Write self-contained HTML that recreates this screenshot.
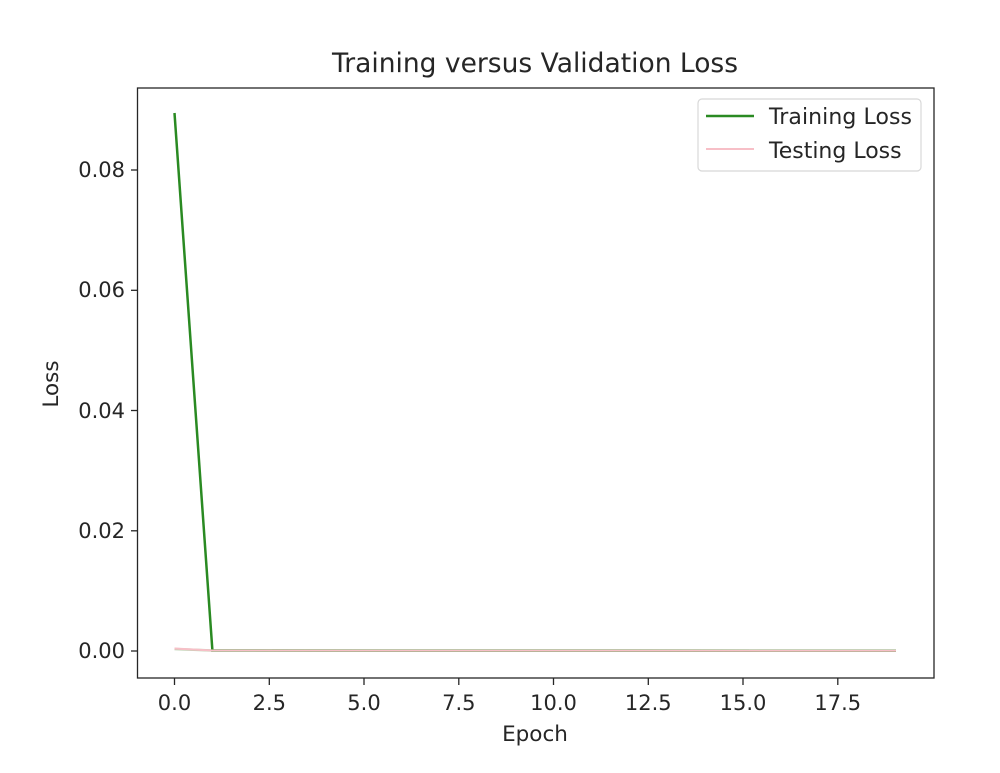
<!DOCTYPE html>
<html><head><style>body{margin:0;background:#fff}svg{display:block}text{font-family:"DejaVu Sans","Liberation Sans",sans-serif;fill:#262626}</style></head><body>
<svg width="1000" height="773" viewBox="0 0 1000 773">
<rect width="1000" height="773" fill="#fff"/>
<text x="535" y="72" font-size="26.5" text-anchor="middle">Training versus Validation Loss</text>
<g stroke="#262626" stroke-width="1.3">
<line x1="174.5" y1="678" x2="174.5" y2="685"/><line x1="269.3" y1="678" x2="269.3" y2="685"/><line x1="364" y1="678" x2="364" y2="685"/><line x1="458.8" y1="678" x2="458.8" y2="685"/><line x1="553.5" y1="678" x2="553.5" y2="685"/><line x1="648.3" y1="678" x2="648.3" y2="685"/><line x1="743" y1="678" x2="743" y2="685"/><line x1="837.8" y1="678" x2="837.8" y2="685"/>
<line x1="131" y1="651" x2="138" y2="651"/><line x1="131" y1="530.8" x2="138" y2="530.8"/><line x1="131" y1="410.5" x2="138" y2="410.5"/><line x1="131" y1="290.3" x2="138" y2="290.3"/><line x1="131" y1="170" x2="138" y2="170"/>
</g>
<g font-size="21" text-anchor="middle">
<text x="174.5" y="710">0.0</text><text x="269.3" y="710">2.5</text><text x="364" y="710">5.0</text><text x="458.8" y="710">7.5</text><text x="553.5" y="710">10.0</text><text x="648.3" y="710">12.5</text><text x="743" y="710">15.0</text><text x="837.8" y="710">17.5</text>
</g>
<g font-size="21" text-anchor="end">
<text x="125" y="658">0.00</text><text x="125" y="538">0.02</text><text x="125" y="418">0.04</text><text x="125" y="297">0.06</text><text x="125" y="177">0.08</text>
</g>
<text x="535" y="741" font-size="21.5" text-anchor="middle">Epoch</text>
<text transform="translate(58,384) rotate(-90)" font-size="21.5" text-anchor="middle">Loss</text>
<polyline points="174.5,649 212.4,650.5 896,650.8" fill="none" stroke="#bcd0b0" stroke-width="2.5"/>
<polyline points="174.5,113 212.4,650.5 896,650.8" fill="none" stroke="#2a8a22" stroke-width="2.5"/>
<polyline points="174.5,648.5 212.4,650.5 896,650.8" fill="none" stroke="#f7bfc7" stroke-width="2"/>
<rect x="137.5" y="88" width="796.5" height="590" fill="none" stroke="#262626" stroke-width="1.3"/>
<rect x="698" y="99" width="223" height="72" rx="4" fill="#fff" stroke="#d8d8d8" stroke-width="1.2"/>
<line x1="706" y1="116" x2="754" y2="116" stroke="#2a8a22" stroke-width="2.5"/>
<line x1="706" y1="149" x2="754" y2="149" stroke="#f7bfc7" stroke-width="2"/>
<text x="769" y="124" font-size="22" textLength="143">Training Loss</text>
<text x="769" y="158" font-size="22">Testing Loss</text>
</svg>
</body></html>
